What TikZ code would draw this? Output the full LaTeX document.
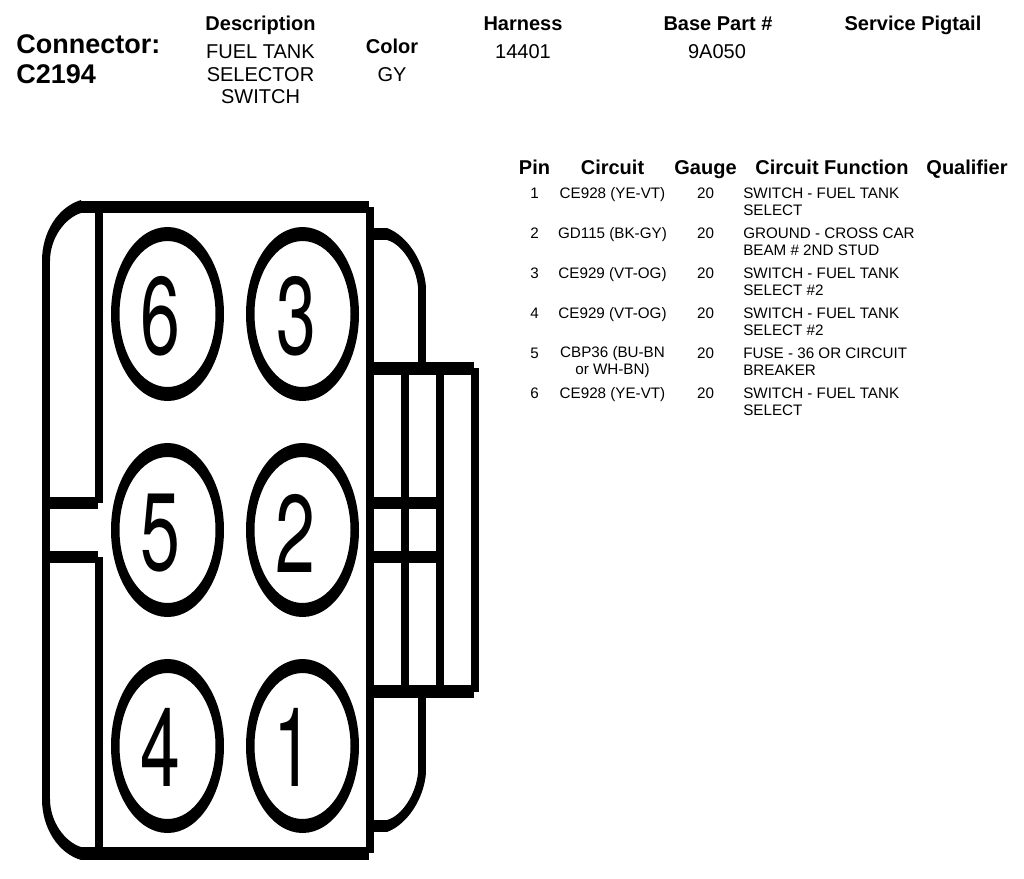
\documentclass[tikz,border=0pt]{standalone}
\usepackage{fontspec}
\setmainfont{Liberation Sans}
\newfontfamily\pinfont{TeX Gyre Heros}
\usepackage{tikz}
\usetikzlibrary{positioning}

\begin{document}
\begin{tikzpicture}[x=0.75pt,y=-0.75pt,node distance = 16.9pt,inner sep=0pt]
\tikzstyle{title}=[anchor=base,font=\bfseries\fontsize{20.25}{22.5}\selectfont,align=left]
\tikzstyle{head}=[anchor=base,font=\bfseries\fontsize{15}{18}\selectfont]
\tikzstyle{info}=[anchor=base,font=\fontsize{15}{16.9}\selectfont,align=center]
\tikzstyle{cell}=[anchor=north,font=\fontsize{11.4}{12.75}\selectfont,align=center,execute at begin node=\strut]
\tikzstyle{func}=[cell,anchor=north west,align=left]
\tikzstyle{digit}=[font=\pinfont\fontsize{82.7}{90}\selectfont,xscale=0.65,transform shape]
\tikzstyle{heavy}=[line width=9.6pt]
\tikzstyle{light}=[line width=6pt]
\tikzstyle{ring}=[fill=black,even odd rule]
\useasboundingbox (0,0) rectangle (1024,878);
% header
\node[title,anchor=base west]	(conn)	at (16,53)		{Connector:};
\node[title,anchor=base west]	(cnum)	at (16,83)		{C2194};
\node[head]	(hdesc)		at (260.5,31)	{Description};
\node[info]	(desc1)		at (260.5,58)	{FUEL TANK};
\node[info]	(desc2)		at (260.5,81)	{SELECTOR};
\node[info]	(desc3)		at (260.5,103)	{SWITCH};
\node[head]	(hcolor)	at (392,53)		{Color};
\node[info]	(color)		at (392,81)		{GY};
\node[head]	(hharn)		at (523,31)		{Harness};
\node[info]	(harn)		at (523,58)		{14401};
\node[head]	(hbase)		at (718,31)		{Base Part \#};
\node[info]	(base)		at (717,58)		{9A050};
\node[head]	(hserv)		at (913,31)		{Service Pigtail};
% table
\node[head]	(hpin)		at (534.5,174)	{Pin};
\node[head]	(hcirc)		at (612.5,174)	{Circuit};
\node[head]	(hgauge)	at (705.5,174)	{Gauge};
\node[head]	(hfunc)		at (832,174)	{Circuit Function};
\node[head]	(hqual)		at (967,174)	{Qualifier};
\node[cell]	(pin1)	at (534.5,186)			{1};
\node[cell]	(pin2)	[below = of pin1]		{2};
\node[cell]	(pin3)	[below = of pin2]		{3};
\node[cell]	(pin4)	[below = of pin3]		{4};
\node[cell]	(pin5)	[below = of pin4]		{5};
\node[cell]	(pin6)	[below = of pin5]		{6};
\node[cell]	(circ1)	at (hcirc |- pin1.north)	{CE928 (YE-VT)};
\node[cell]	(circ2)	at (hcirc |- pin2.north)	{GD115 (BK-GY)};
\node[cell]	(circ3)	at (hcirc |- pin3.north)	{CE929 (VT-OG)};
\node[cell]	(circ4)	at (hcirc |- pin4.north)	{CE929 (VT-OG)};
\node[cell]	(circ5)	at (hcirc |- pin5.north)	{CBP36 (BU-BN\\or WH-BN)};
\node[cell]	(circ6)	at (hcirc |- pin6.north)	{CE928 (YE-VT)};
\node[cell]	(gauge1)	at (hgauge |- pin1.north)	{20};
\node[cell]	(gauge2)	at (hgauge |- pin2.north)	{20};
\node[cell]	(gauge3)	at (hgauge |- pin3.north)	{20};
\node[cell]	(gauge4)	at (hgauge |- pin4.north)	{20};
\node[cell]	(gauge5)	at (hgauge |- pin5.north)	{20};
\node[cell]	(gauge6)	at (hgauge |- pin6.north)	{20};
\node[func]	(func1)	at (743,187.5)			{SWITCH - FUEL TANK\\SELECT};
\node[func]	(func2)	at (743,227.2)			{GROUND - CROSS CAR\\BEAM \# 2ND STUD};
\node[func]	(func3)	at (743,267.2)			{SWITCH - FUEL TANK\\SELECT \#2};
\node[func]	(func4)	at (743,307.2)			{SWITCH - FUEL TANK\\SELECT \#2};
\node[func]	(func5)	at (743,347.2)			{FUSE - 36 OR CIRCUIT\\BREAKER};
\node[func]	(func6)	at (743,387.2)			{SWITCH - FUEL TANK\\SELECT};
% connector body
\draw[heavy]	(81,207) -- (369,207);
\draw[heavy]	(81,853.5) -- (369,853.5);
\draw[light]	(46,261) -- (46,799);
\draw[light]	(99,207) -- (99,503);
\draw[light]	(99,557) -- (99,853);
\draw[light]	(370,207) -- (370,853);
\draw[heavy]	(42,503) -- (98,503);
\draw[heavy]	(42,557) -- (98,557);
% corners
\fill (42,261) .. controls (42,232) and (58,207) .. (81,200) -- (81,213) .. controls (65,218) and (50,238) .. (50,261) -- cycle;
\fill (42,799) .. controls (42,828) and (58,853) .. (81,860) -- (81,847) .. controls (65,842) and (50,822) .. (50,799) -- cycle;
\fill (387,228) .. controls (408,236) and (424,262) .. (426,287) -- (418,287) .. controls (416,266) and (402,244) .. (387,240) -- cycle;
\fill (387,832) .. controls (408,824) and (424,798) .. (426,773) -- (418,773) .. controls (416,794) and (402,816) .. (387,820) -- cycle;
% ears
\draw[heavy]	(370,234) -- (387,234);
\draw[heavy]	(370,826) -- (387,826);
\draw[light]	(422,287) -- (422,368);
\draw[light]	(422,692) -- (422,773);
% side latch
\draw[heavy]	(370,368.5) -- (474,368.5);
\draw[heavy]	(370,691.5) -- (474,691.5);
\draw[light]	(405,368) -- (405,692);
\draw[light]	(440,368) -- (440,692);
\draw[light]	(475,368) -- (475,692);
\draw[heavy]	(370,503) -- (444,503);
\draw[heavy]	(370,557) -- (444,557);
% pins
\path[ring]	(167.5,314) ellipse [x radius=56.5,y radius=87] (167.5,314) ellipse [x radius=48,y radius=73];
\path[ring]	(302.5,314) ellipse [x radius=56.5,y radius=87] (302.5,314) ellipse [x radius=48,y radius=73];
\path[ring]	(167.5,530) ellipse [x radius=56.5,y radius=87] (167.5,530) ellipse [x radius=48,y radius=73];
\path[ring]	(302.5,530) ellipse [x radius=56.5,y radius=87] (302.5,530) ellipse [x radius=48,y radius=73];
\path[ring]	(167.5,746) ellipse [x radius=56.5,y radius=87] (167.5,746) ellipse [x radius=48,y radius=73];
\path[ring]	(302.5,746) ellipse [x radius=56.5,y radius=87] (302.5,746) ellipse [x radius=48,y radius=73];
\node[digit]	(num6)	at (160.5,316.5)	{6};
\node[digit]	(num3)	at (296,316.5)		{3};
\node[digit]	(num5)	at (160.5,533)		{5};
\node[digit]	(num2)	at (295,533)		{2};
\node[digit]	(num4)	at (160,747)		{4};
\node[digit]	(num1)	at (293,747)		{1};
\end{tikzpicture}
\end{document}
